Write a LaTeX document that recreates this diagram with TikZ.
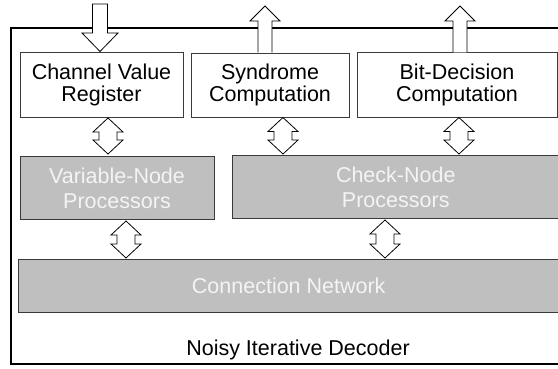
\documentclass[tikz,border=0pt]{standalone}
\usepackage{fontspec}
\setmainfont{Liberation Sans}
\definecolor{boxgray}{HTML}{BFBFBF}
\definecolor{edgegray}{HTML}{3A3A3A}
\definecolor{lighttext}{HTML}{F4F4F4}
\begin{document}
\begin{tikzpicture}[x=1pt,y=-1pt,
  font=\fontsize{21.5}{22}\selectfont,
  whitebox/.style={draw=edgegray,line width=0.9pt,fill=white,inner sep=0pt,align=center},
  graybox/.style={draw=edgegray,line width=0.9pt,fill=boxgray,inner sep=0pt,align=center,text=lighttext,font=\fontsize{21.5}{25}\selectfont},
  blockarrow/.style={draw=black,line width=0.8pt,fill=white,line join=miter}]
\useasboundingbox (0,0) rectangle (558,369);
% outer frame
\draw[line width=1.6pt] (575,28) -- (11,28) -- (11,364) -- (575,364);
% top row
\node[whitebox,minimum width=163pt,minimum height=65pt] (cvr) at (101.5,84.5) {Channel Value\\Register};
\node[whitebox,minimum width=158pt,minimum height=64pt] (syn) at (270,85) {Syndrome\\Computation};
\node[whitebox,minimum width=200pt,minimum height=65pt] (bit) at (457,84.5) {Bit-Decision\\Computation};
% middle row
\node[graybox,minimum width=194pt,minimum height=63pt] (vnp) at (117,188) {Variable-Node\\Processors};
\node[graybox,minimum width=327.5pt,minimum height=63pt] (cnp) at (395.75,187) {Check-Node\\Processors};
% bottom
\node[graybox,minimum width=541.5pt,minimum height=53pt] (cn) at (288.75,285.5) {Connection Network};
\node (title) at (298,350) {Noisy Iterative Decoder};
% input arrow
\draw[blockarrow] (92.5,4) -- (107.5,4) -- (107.5,33) -- (118,33) -- (100,51.5) -- (82,33) -- (92.5,33) -- cycle;
% output arrows
\foreach \ax in {265,460}{
  \draw[blockarrow] (\ax-7,52.5) -- (\ax-7,21) -- (\ax-15,21) -- (\ax,6) -- (\ax+15,21) -- (\ax+7,21) -- (\ax+7,52.5);
}
% double arrows
\newcommand\dblarr[3]{%
  \draw[blockarrow] (#1,#2) -- (#1+15,#2+14) -- (#1+9,#2+14) -- (#1+9,#3-14) -- (#1+15,#3-14) -- (#1,#3) -- (#1-15,#3-14) -- (#1-9,#3-14) -- (#1-9,#2+14) -- (#1-15,#2+14) -- cycle;}
\dblarr{108}{118}{154}
\dblarr{283}{117.5}{154}
\dblarr{459}{117.5}{154}
\dblarr{126}{221}{258}
\dblarr{385}{220}{258}
\end{tikzpicture}
\end{document}
